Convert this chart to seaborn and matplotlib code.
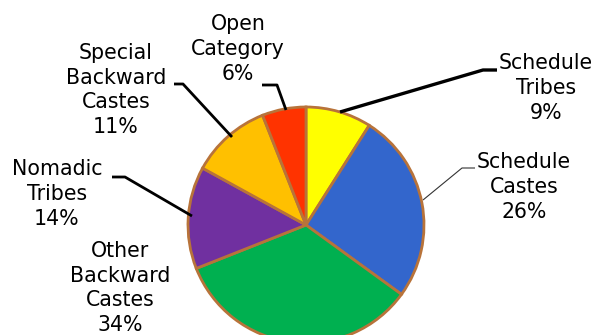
import matplotlib
matplotlib.use("Agg")
import matplotlib.pyplot as plt
import seaborn as sns

# Category shares (percent), clockwise from 12 o'clock
categories = ["Schedule\nTribes", "Schedule\nCastes", "Other\nBackward\nCastes",
              "Nomadic\nTribes", "Special\nBackward\nCastes", "Open\nCategory"]
shares = [9, 26, 34, 14, 11, 6]
colors = ["#FFFF00", "#3366CC", "#00B050", "#7030A0", "#FFC000", "#FF3300"]

W, H = 597, 335
sns.set_theme(style="white")
plt.rcParams["font.family"] = ["DejaVu Sans"]

fig = plt.figure(figsize=(W / 100, H / 100), dpi=100)
ax = fig.add_axes([0, 0, 1, 1])
ax.set_xlim(0, W)
ax.set_ylim(0, H)
ax.set_aspect("equal")
ax.axis("off")


def px(x, y):
    """Convert top-left pixel coordinates to data coordinates."""
    return x, H - y


cx, cy = px(306, 225)
ax.pie(shares, colors=colors, startangle=90, counterclock=False,
       center=(cx, cy), radius=118,
       wedgeprops=dict(edgecolor="#B8733A", linewidth=2.0))
ax.set_xlim(0, W)
ax.set_ylim(0, H)

# Label block centres (pixel coords)
label_pos = [(546, 88), (524, 187), (120, 288), (57, 194), (116, 90), (238, 49)]
for name, val, (lx, ly) in zip(categories, shares, label_pos):
    x, y = px(lx, ly)
    ax.text(x, y, f"{name}\n{val}%", ha="center", va="center",
            fontsize=14.8, color="black", linespacing=1.3)

# Leader lines: pie edge -> elbow -> short horizontal tail
leaders = [
    ([(340, 112), (483, 70), (497, 70)], "black", 2.4),
    ([(423, 200), (462, 168), (475, 168)], "#333333", 0.8),
    ([(286, 110), (277, 85), (262, 85)], "black", 2.0),
    ([(232, 137), (183, 84), (174, 84)], "black", 2.0),
    ([(192, 216), (125, 177), (112, 177)], "black", 2.0),
]
for pts, c, lw in leaders:
    xs, ys = zip(*[px(a, b) for a, b in pts])
    ax.plot(xs, ys, color=c, linewidth=lw, solid_capstyle="butt")

fig.savefig("out.png", dpi=100, facecolor="white")
